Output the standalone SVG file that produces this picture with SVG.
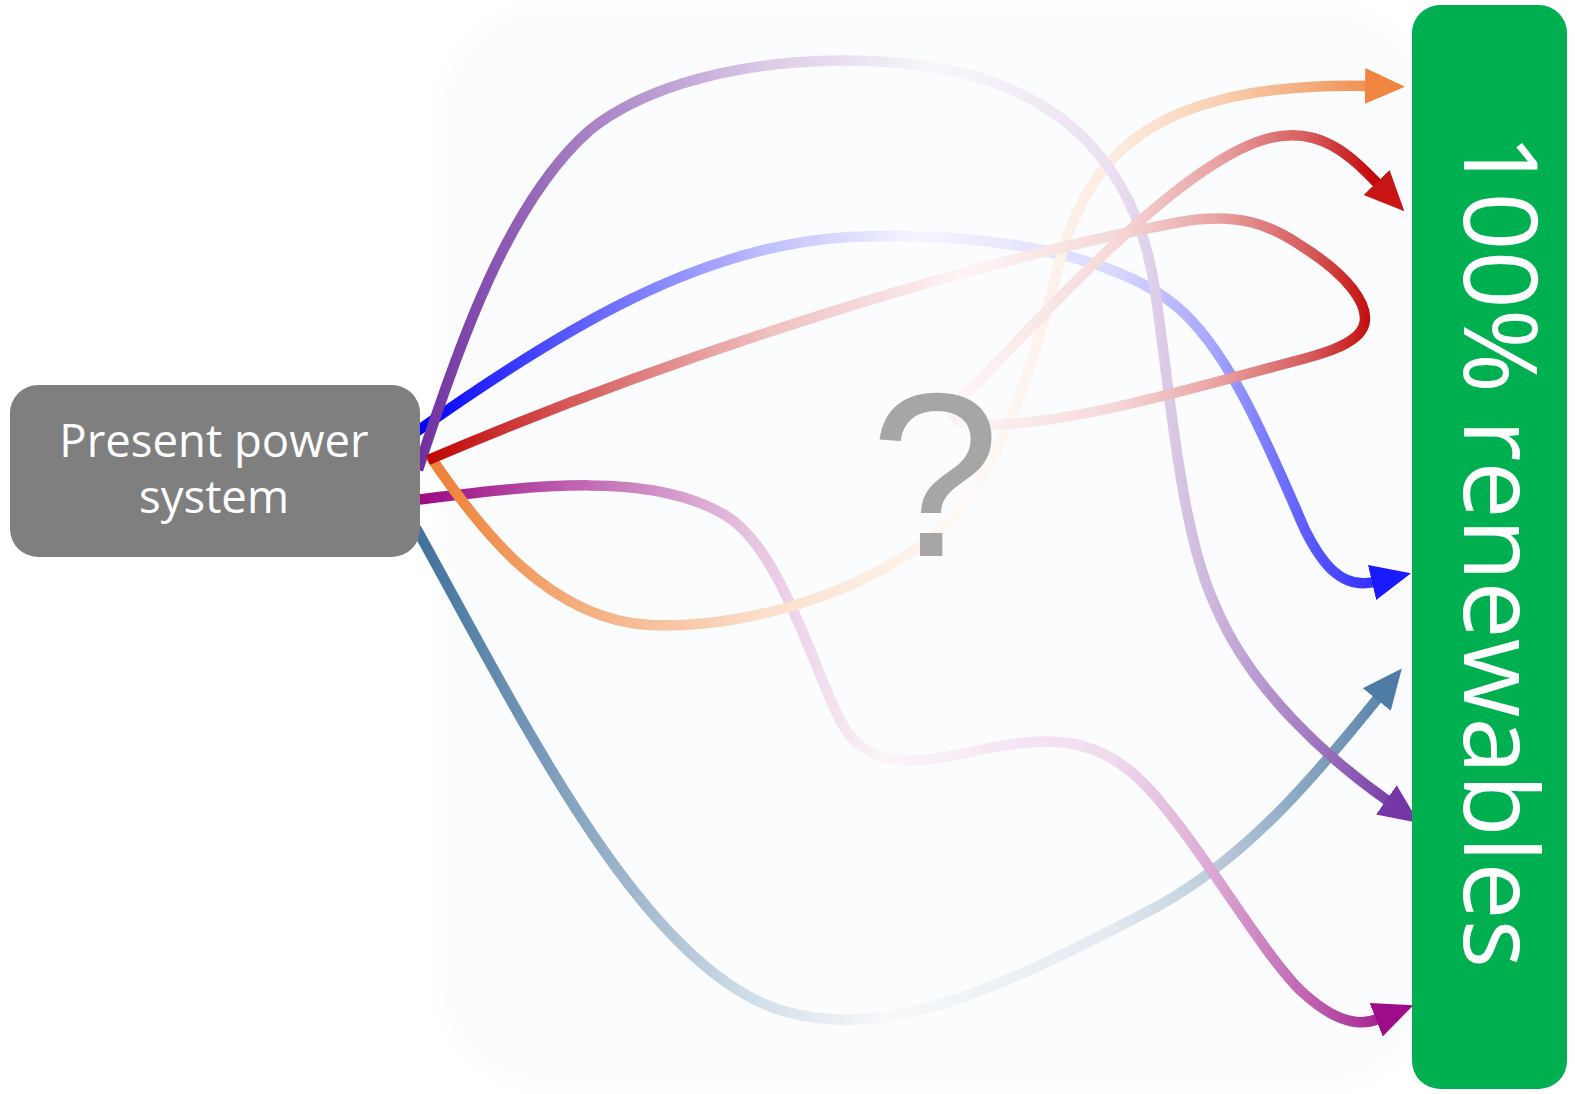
<svg xmlns="http://www.w3.org/2000/svg" width="1575" height="1094" viewBox="0 0 1575 1094">
<style>
.link{fill:none;stroke-width:10.5;stroke-linecap:butt;stroke-linejoin:round}
.lbl{font-family:"Open Sans","Liberation Sans",sans-serif;fill:#ffffff}
</style>
<defs>
<filter id="soft" x="-10%" y="-10%" width="120%" height="120%"><feGaussianBlur stdDeviation="12"/></filter>
<linearGradient id="gO" gradientUnits="userSpaceOnUse" x1="420" y1="0" x2="1410" y2="0">
<stop offset="0" stop-color="#ED7D31"/><stop offset="0.15" stop-color="#F3AB79"/><stop offset="0.35" stop-color="#FBDFCC"/><stop offset="0.55" stop-color="#FEFAF7"/><stop offset="0.7" stop-color="#FCECE0"/><stop offset="0.8" stop-color="#F9D2B7"/><stop offset="0.9" stop-color="#F3AB79"/><stop offset="1" stop-color="#ED7D31"/>
</linearGradient>
<linearGradient id="gR" gradientUnits="userSpaceOnUse" x1="420" y1="0" x2="1410" y2="0">
<stop offset="0" stop-color="#C00000"/><stop offset="0.15" stop-color="#D65959"/><stop offset="0.35" stop-color="#EFBFBF"/><stop offset="0.55" stop-color="#FDF5F5"/><stop offset="0.7" stop-color="#F6D9D9"/><stop offset="0.8" stop-color="#E9A6A6"/><stop offset="0.9" stop-color="#D65959"/><stop offset="0.97" stop-color="#C00000"/>
</linearGradient>
<linearGradient id="gB" gradientUnits="userSpaceOnUse" x1="420" y1="0" x2="1410" y2="0">
<stop offset="0" stop-color="#0000FF"/><stop offset="0.15" stop-color="#5959FF"/><stop offset="0.35" stop-color="#BFBFFF"/><stop offset="0.5" stop-color="#F5F5FF"/><stop offset="0.7" stop-color="#D9D9FF"/><stop offset="0.8" stop-color="#A6A6FF"/><stop offset="0.9" stop-color="#5959FF"/><stop offset="1" stop-color="#1A1AFF"/>
</linearGradient>
<linearGradient id="gP" gradientUnits="userSpaceOnUse" x1="420" y1="0" x2="1410" y2="0">
<stop offset="0" stop-color="#7030A0"/><stop offset="0.15" stop-color="#A279C1"/><stop offset="0.35" stop-color="#DBCBE7"/><stop offset="0.52" stop-color="#F9F7FB"/><stop offset="0.7" stop-color="#EAE0F1"/><stop offset="0.8" stop-color="#CDB7DE"/><stop offset="0.9" stop-color="#A279C1"/><stop offset="1" stop-color="#7030A0"/>
</linearGradient>
<linearGradient id="gM" gradientUnits="userSpaceOnUse" x1="420" y1="0" x2="1410" y2="0">
<stop offset="0" stop-color="#9B0A84"/><stop offset="0.15" stop-color="#BE60AF"/><stop offset="0.33" stop-color="#E6C2E0"/><stop offset="0.47" stop-color="#FBF5FA"/><stop offset="0.7" stop-color="#F0DAEC"/><stop offset="0.8" stop-color="#DCA9D4"/><stop offset="0.9" stop-color="#BE60AF"/><stop offset="1" stop-color="#9B0A84"/>
</linearGradient>
<linearGradient id="gS" gradientUnits="userSpaceOnUse" x1="420" y1="0" x2="1410" y2="0">
<stop offset="0" stop-color="#41719C"/><stop offset="0.15" stop-color="#84A3BF"/><stop offset="0.33" stop-color="#D0DCE6"/><stop offset="0.47" stop-color="#F7F9FB"/><stop offset="0.7" stop-color="#E3EAF0"/><stop offset="0.8" stop-color="#BDCDDC"/><stop offset="0.9" stop-color="#84A3BF"/><stop offset="1" stop-color="#4C7AA4"/>
</linearGradient>
<marker id="aO" markerUnits="userSpaceOnUse" viewBox="0 0 40 38" markerWidth="40" markerHeight="38" refX="2" refY="19" orient="auto"><path d="M0,1 L40,19 L0,37 z" fill="#EF8540"/></marker>
<marker id="aR" markerUnits="userSpaceOnUse" viewBox="0 0 40 38" markerWidth="40" markerHeight="38" refX="2" refY="19" orient="auto"><path d="M0,1 L40,19 L0,37 z" fill="#C81616"/></marker>
<marker id="aB" markerUnits="userSpaceOnUse" viewBox="0 0 40 38" markerWidth="40" markerHeight="38" refX="2" refY="19" orient="auto"><path d="M0,1 L40,19 L0,37 z" fill="#1A1AFF"/></marker>
<marker id="aP" markerUnits="userSpaceOnUse" viewBox="0 0 40 38" markerWidth="40" markerHeight="38" refX="2" refY="19" orient="auto"><path d="M0,1 L40,19 L0,37 z" fill="#7536A6"/></marker>
<marker id="aM" markerUnits="userSpaceOnUse" viewBox="0 0 40 38" markerWidth="40" markerHeight="38" refX="2" refY="19" orient="auto"><path d="M0,1 L40,19 L0,37 z" fill="#9E0C88"/></marker>
<marker id="aS" markerUnits="userSpaceOnUse" viewBox="0 0 40 38" markerWidth="40" markerHeight="38" refX="2" refY="19" orient="auto"><path d="M0,1 L40,19 L0,37 z" fill="#4F7CA6"/></marker>
</defs>
<rect width="1575" height="1094" fill="#ffffff"/>
<rect x="440" y="6" width="990" height="1082" rx="110" fill="#fbfcfd" filter="url(#soft)"/>
<g id="connectors">
<path class="link" stroke="url(#gS)" marker-end="url(#aS)" d="M416,528 C520,715 640,965 780,1010 C880,1040 980,1000 1160,905 C1250,855 1320,770 1378,698"/>
<path class="link" stroke="url(#gM)" marker-end="url(#aM)" d="M416,500 C530,486 650,470 725,515 C780,548 810,660 840,720 C865,770 915,765 980,750 C1050,735 1100,735 1150,790 C1200,845 1260,950 1300,990 C1330,1018 1355,1028 1378,1019"/>
<path class="link" stroke="url(#gB)" marker-end="url(#aB)" d="M416,432 C560,330 700,245 850,237 C1000,230 1120,260 1175,305 C1230,350 1270,450 1305,530 C1320,560 1340,590 1374,582"/>
<path class="link" stroke="url(#gO)" marker-end="url(#aO)" d="M430,456 C480,530 550,620 650,625 C760,630 900,580 960,510 C1000,460 1030,380 1060,260 C1090,150 1160,82 1367,86"/>
<path class="link" stroke="url(#gP)" marker-end="url(#aP)" d="M418,470 C460,340 510,200 590,130 C690,50 900,45 1000,85 C1090,120 1140,190 1155,290 C1170,390 1180,530 1215,605 C1250,690 1330,760 1388,801"/>
<path class="link" stroke="url(#gR)" marker-end="url(#aR)" d="M428,460 C650,365 950,265 1180,222 C1240,212 1270,225 1300,245 C1348,275 1370,305 1364,325 C1358,345 1320,355 1280,365 C1170,395 1060,425 985,425 C950,425 945,415 965,395 C1040,320 1180,160 1270,138 C1320,126 1350,155 1378,184"/>
</g>
<g id="question">
<text x="935" y="556" font-family="Liberation Sans, Arial, sans-serif" font-size="234" fill="#A6A6A6" text-anchor="middle">?</text>
</g>
<g id="present">
<rect x="10" y="385" width="410" height="172" rx="28" fill="#7F7F7F"/>
<text class="lbl" x="214" y="457" font-size="45.5" text-anchor="middle">Present power</text>
<text class="lbl" x="214" y="513" font-size="45.5" text-anchor="middle">system</text>
</g>
<g id="renewables">
<rect x="1412" y="5" width="155" height="1084" rx="28" fill="#00B050"/>
<text class="lbl" transform="translate(1464,551) rotate(90)" font-size="102" text-anchor="middle">100% renewables</text>
</g>
</svg>
